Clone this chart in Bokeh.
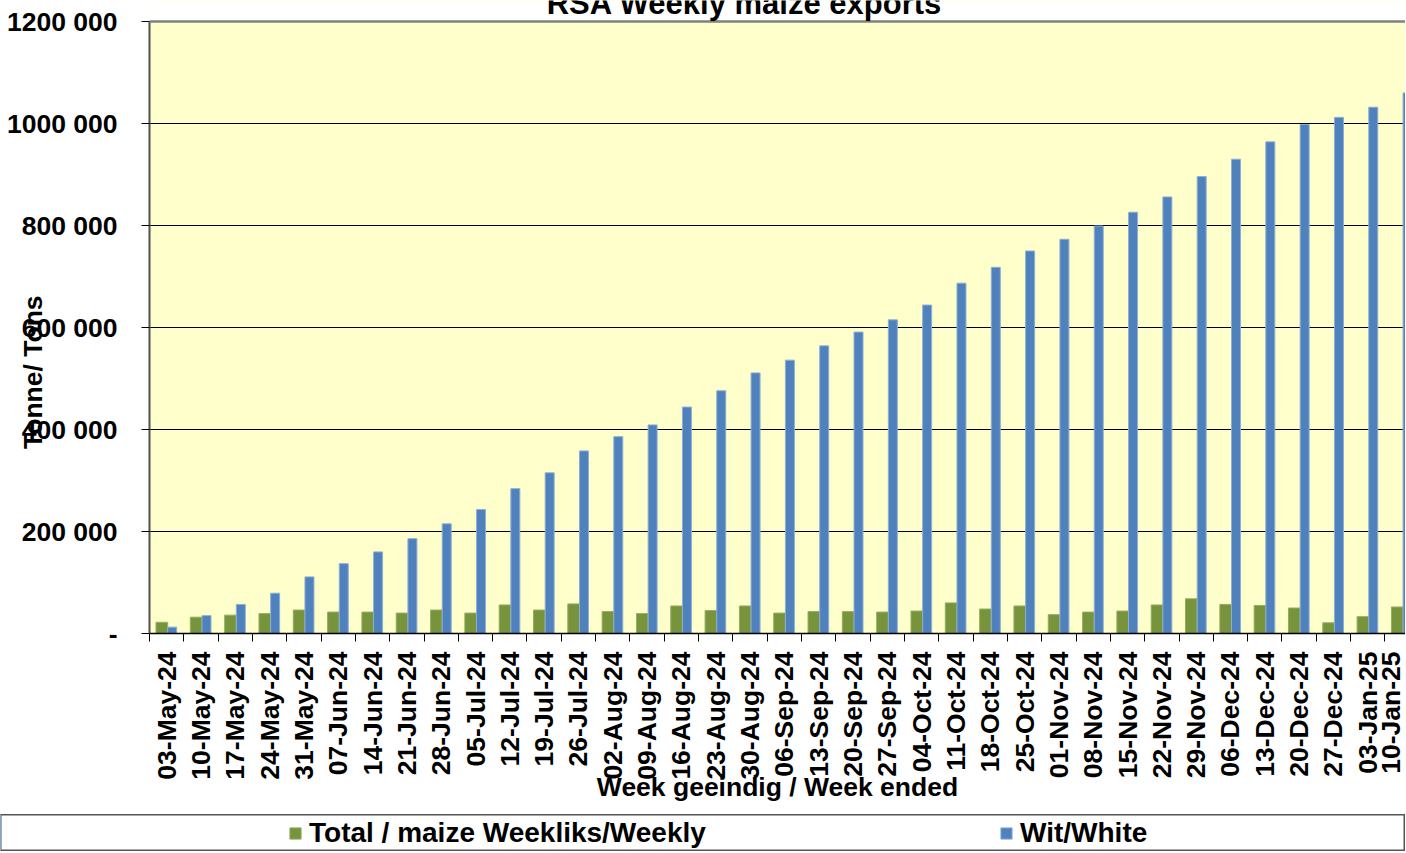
import math
import numpy as np
from bokeh.plotting import figure
from bokeh.layouts import column, row
from bokeh.models import (Range1d, FixedTicker, Label, Legend, LegendItem, Span,
                          BoxAnnotation, ColumnDataSource)
from bokeh.transform import dodge
from bokeh.embed import file_html
from bokeh.resources import INLINE

# ---------------- data ----------------
weeks = ["03-May-24", "10-May-24", "17-May-24", "24-May-24", "31-May-24", "07-Jun-24",
         "14-Jun-24", "21-Jun-24", "28-Jun-24", "05-Jul-24", "12-Jul-24", "19-Jul-24",
         "26-Jul-24", "02-Aug-24", "09-Aug-24", "16-Aug-24", "23-Aug-24", "30-Aug-24",
         "06-Sep-24", "13-Sep-24", "20-Sep-24", "27-Sep-24", "04-Oct-24", "11-Oct-24",
         "18-Oct-24", "25-Oct-24", "01-Nov-24", "08-Nov-24", "15-Nov-24", "22-Nov-24",
         "29-Nov-24", "06-Dec-24", "13-Dec-24", "20-Dec-24", "27-Dec-24", "03-Jan-25",
         "10-Jan-25"]

total_weekly = [22000, 32000, 36000, 39000, 46000, 42000, 42000, 40000, 46000, 40000,
                56000, 46000, 58000, 43000, 39000, 54000, 45000, 54000, 40000, 43000,
                43000, 42000, 44000, 60000, 48000, 54000, 37000, 42000, 44000, 56000,
                68000, 57000, 55000, 50000, 21000, 33000, 52000]

white_cumulative = [12500, 35000, 57000, 79000, 111000, 137000, 160000, 186000, 215000,
                    243000, 284000, 315000, 358000, 386000, 409000, 444000, 476000,
                    511000, 536000, 564000, 591000, 615000, 644000, 687000, 718000,
                    750000, 773000, 799000, 826000, 856000, 896000, 930000, 964000,
                    998000, 1012000, 1032000, 1060000]

y_ticks = [0, 200000, 400000, 600000, 800000, 1000000, 1200000]
y_tick_labels = ["-", "200 000", "400 000", "600 000", "800 000", "1000 000", "1200 000"]

title_text = "RSA Weekly maize exports"
x_title = "Week geeindig / Week ended"
y_title = "Tonne/ Tons"
series_names = ["Total / maize Weekliks/Weekly", "Wit/White"]

GREEN = "#77933C"
GREEN_EDGE = "#93AD62"
BLUE = "#4F81BD"
BLUE_EDGE = "#8DAED6"
FONT = "Liberation Sans"
FS = "26.5px"
W = 1405

Y_MAX = y_ticks[-1]
Y_TOP = 1241200   # room above the axis for the (partly cut) title

# ---------------- main chart ----------------
centers = [i + 0.5 for i in range(len(weeks))]
source = ColumnDataSource(dict(x=centers, week=weeks, total=total_weekly,
                               white=white_cumulative))

p = figure(width=W, height=814, output_backend="svg", toolbar_location=None,
           x_range=Range1d(0, 36.6), y_range=Range1d(0, Y_TOP),
           min_border_left=149, min_border_right=0, min_border_top=0,
           min_border_bottom=181)
p.background_fill_color = "#FFFFCC"
p.border_fill_color = "white"
p.outline_line_color = None

g = p.vbar(x=dodge("x", -0.14, range=p.x_range), top="total", width=0.34,
           source=source, fill_color=GREEN, line_color=GREEN_EDGE, line_width=1)
b = p.vbar(x=dodge("x", 0.161, range=p.x_range), top="white", width=0.262,
           source=source, fill_color=BLUE, line_color=BLUE_EDGE, line_width=1)

# x axis
xa = p.xaxis[0]
xa.ticker = FixedTicker(ticks=centers, minor_ticks=list(range(len(weeks) + 1)))
xa.major_label_overrides = {c: w for c, w in zip(centers, weeks)}
xa.major_label_orientation = math.pi / 2
xa.major_tick_line_color = None
xa.major_tick_out = 8
xa.major_tick_in = 0
xa.minor_tick_out = 8
xa.minor_tick_in = 0
xa.minor_tick_line_color = "black"
xa.minor_tick_line_width = 1
xa.axis_line_color = "black"
xa.axis_line_width = 1.5
xa.major_label_standoff = 10
xa.major_label_text_font = FONT
xa.major_label_text_font_size = FS
xa.major_label_text_font_style = "bold"
xa.major_label_text_color = "black"
xa.axis_label = x_title
xa.axis_label_text_font = FONT
xa.axis_label_text_font_size = FS
xa.axis_label_text_font_style = "bold"
xa.axis_label_text_color = "black"
xa.axis_label_standoff = -11

# y axis (title padded with trailing no-break spaces to sit lower, as in the reference)
ya = p.yaxis[0]
ya.bounds = (0, Y_MAX)
ya.ticker = FixedTicker(ticks=y_ticks)
ya.major_label_overrides = {t_: l for t_, l in zip(y_ticks, y_tick_labels)}
ya.major_tick_out = 8
ya.major_tick_in = 0
ya.major_tick_line_color = "black"
ya.minor_tick_line_color = None
ya.axis_line_color = "#505050"
ya.axis_line_width = 2
ya.major_label_standoff = 24
ya.major_label_text_font = FONT
ya.major_label_text_font_size = FS
ya.major_label_text_font_style = "bold"
ya.major_label_text_color = "black"
ya.axis_label = y_title + "\u00a0" * 15
ya.axis_label_text_font = FONT
ya.axis_label_text_font_size = FS
ya.axis_label_text_font_style = "bold"
ya.axis_label_text_color = "black"
ya.axis_label_standoff = -44

# grid
p.xgrid.visible = False
p.ygrid.ticker = FixedTicker(ticks=y_ticks[1:-1])
p.ygrid.grid_line_color = "black"
p.ygrid.grid_line_width = 1

# white band above the plot area, gray top border, title
p.add_layout(BoxAnnotation(bottom=Y_MAX, fill_color="white", fill_alpha=1,
                           line_color=None, level="underlay"))
p.add_layout(Span(location=Y_MAX, dimension="width", line_color="#808080",
                  line_width=2.5))
p.add_layout(Label(x=17.34, y=1235300, text=title_text, text_align="center",
                   text_baseline="middle", text_font=FONT, text_font_size="31px",
                   text_font_style="bold", text_color="black"))

# ---------------- legend strip ----------------
q = figure(width=W, height=37, output_backend="svg", toolbar_location=None,
           x_range=Range1d(1000, 1001), y_range=Range1d(0, 1), x_axis_type=None,
           y_axis_type=None, min_border=0)
q.background_fill_color = "white"
q.border_fill_color = "white"
q.outline_line_color = "#555555"
q.outline_line_width = 2
q.xgrid.visible = False
q.ygrid.visible = False

# legend proxies share the data but lie outside this strip's visible range
lg = q.vbar(x="x", top="total", width=0.34, source=source,
            fill_color=GREEN, line_color=GREEN_EDGE)
lb = q.vbar(x="x", top="white", width=0.262, source=source,
            fill_color=BLUE, line_color=BLUE_EDGE)

legend = Legend(items=[LegendItem(label=series_names[0], renderers=[lg]),
                       LegendItem(label=series_names[1], renderers=[lb])],
                orientation="horizontal", location="left", margin=288,
                glyph_width=14, glyph_height=14, label_standoff=7, label_width=690,
                spacing=0, padding=0, border_line_color=None,
                background_fill_alpha=0,
                label_text_font=FONT, label_text_font_size="28px",
                label_text_font_style="bold", label_text_color="black")
q.add_layout(legend)

layout = column(p, row(q), spacing=0)

open("out.html", "w").write(file_html(layout, INLINE))
